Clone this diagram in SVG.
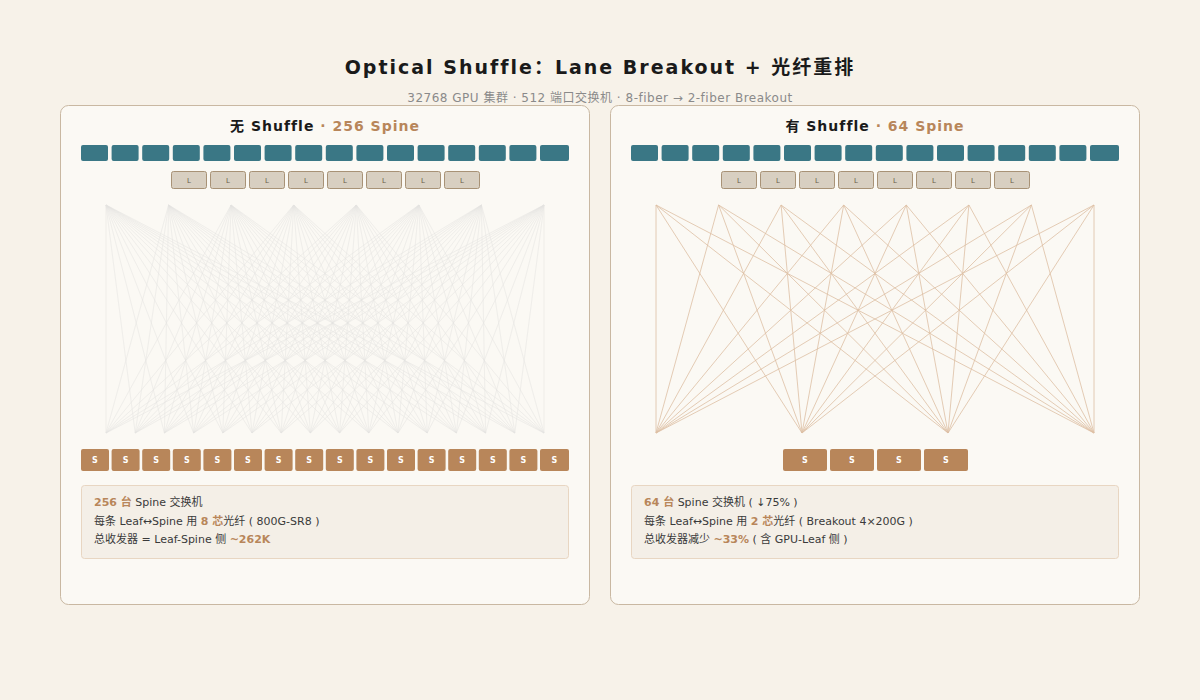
<svg xmlns="http://www.w3.org/2000/svg" width="1200" height="700" viewBox="0 0 1200 700">
<style>
text{font-family:"DejaVu Sans","Noto Sans CJK SC",sans-serif}
.panel{fill:#fbf9f4;stroke:#c9b8a2;stroke-width:1}
.g{fill:#3a7785}
.l{fill:#d8cfc1;stroke:#a89276;stroke-width:1}
.lt{font-size:7px;fill:#6b5a48;text-anchor:middle}
.s{fill:#b8865a}
.st{font-size:8px;fill:#fff;font-weight:bold;text-anchor:middle}
.info{fill:#f4efe7;stroke:#e8d6c2}
.it{font-size:11px;fill:#3a3a3a}
.hl{fill:#b8865a;font-weight:bold}
.c1{stroke:#cfcfcf;stroke-width:0.5;opacity:0.5}
.c2{stroke:#ddbfa3;stroke-width:0.8}
</style>
<rect width="1200" height="700" fill="#f7f2e9"/>
<text x="600" y="74" font-size="19" font-weight="bold" text-anchor="middle" fill="#1a1a1a" letter-spacing="2">Optical Shuffle：Lane Breakout + 光纤重排</text>
<text x="600" y="102" font-size="12" text-anchor="middle" fill="#8a8a8a" letter-spacing="0.5">32768 GPU 集群 · 512 端口交换机 · 8-fiber → 2-fiber Breakout</text>
<g id="panel-left">
<rect class="panel" x="60.5" y="105.5" width="529" height="499" rx="8"/>
<text x="325" y="131" font-size="14" font-weight="bold" text-anchor="middle" fill="#1a1a1a" letter-spacing="1">无 Shuffle <tspan fill="#b8865a">· 256 Spine</tspan></text>
<g id="gpu-left"><rect class="g" x="81" y="145" width="27" height="16" rx="2"/><rect class="g" x="111.6" y="145" width="27" height="16" rx="2"/><rect class="g" x="142.2" y="145" width="27" height="16" rx="2"/><rect class="g" x="172.8" y="145" width="27" height="16" rx="2"/><rect class="g" x="203.4" y="145" width="27" height="16" rx="2"/><rect class="g" x="234" y="145" width="27" height="16" rx="2"/><rect class="g" x="264.6" y="145" width="27" height="16" rx="2"/><rect class="g" x="295.2" y="145" width="27" height="16" rx="2"/><rect class="g" x="325.8" y="145" width="27" height="16" rx="2"/><rect class="g" x="356.4" y="145" width="27" height="16" rx="2"/><rect class="g" x="387" y="145" width="27" height="16" rx="2"/><rect class="g" x="417.6" y="145" width="27" height="16" rx="2"/><rect class="g" x="448.2" y="145" width="27" height="16" rx="2"/><rect class="g" x="478.8" y="145" width="27" height="16" rx="2"/><rect class="g" x="509.4" y="145" width="27" height="16" rx="2"/><rect class="g" x="540" y="145" width="29" height="16" rx="2"/></g>
<g id="leaf-left">
<rect class="l" x="171.5" y="171.5" width="35" height="17" rx="2"/><text class="lt" x="189" y="183">L</text>
<rect class="l" x="210.5" y="171.5" width="35" height="17" rx="2"/><text class="lt" x="228" y="183">L</text>
<rect class="l" x="249.5" y="171.5" width="35" height="17" rx="2"/><text class="lt" x="267" y="183">L</text>
<rect class="l" x="288.5" y="171.5" width="35" height="17" rx="2"/><text class="lt" x="306" y="183">L</text>
<rect class="l" x="327.5" y="171.5" width="35" height="17" rx="2"/><text class="lt" x="345" y="183">L</text>
<rect class="l" x="366.5" y="171.5" width="35" height="17" rx="2"/><text class="lt" x="384" y="183">L</text>
<rect class="l" x="405.5" y="171.5" width="35" height="17" rx="2"/><text class="lt" x="423" y="183">L</text>
<rect class="l" x="444.5" y="171.5" width="35" height="17" rx="2"/><text class="lt" x="462" y="183">L</text>
</g>
<g id="spine-left">
<rect class="s" x="81" y="449" width="28" height="22" rx="2"/><text class="st" x="95" y="463">S</text>
<rect class="s" x="111.6" y="449" width="28" height="22" rx="2"/><text class="st" x="125.6" y="463">S</text>
<rect class="s" x="142.2" y="449" width="28" height="22" rx="2"/><text class="st" x="156.2" y="463">S</text>
<rect class="s" x="172.8" y="449" width="28" height="22" rx="2"/><text class="st" x="186.8" y="463">S</text>
<rect class="s" x="203.4" y="449" width="28" height="22" rx="2"/><text class="st" x="217.4" y="463">S</text>
<rect class="s" x="234" y="449" width="28" height="22" rx="2"/><text class="st" x="248" y="463">S</text>
<rect class="s" x="264.6" y="449" width="28" height="22" rx="2"/><text class="st" x="278.6" y="463">S</text>
<rect class="s" x="295.2" y="449" width="28" height="22" rx="2"/><text class="st" x="309.2" y="463">S</text>
<rect class="s" x="325.8" y="449" width="28" height="22" rx="2"/><text class="st" x="339.8" y="463">S</text>
<rect class="s" x="356.4" y="449" width="28" height="22" rx="2"/><text class="st" x="370.4" y="463">S</text>
<rect class="s" x="387" y="449" width="28" height="22" rx="2"/><text class="st" x="401" y="463">S</text>
<rect class="s" x="417.6" y="449" width="28" height="22" rx="2"/><text class="st" x="431.6" y="463">S</text>
<rect class="s" x="448.2" y="449" width="28" height="22" rx="2"/><text class="st" x="462.2" y="463">S</text>
<rect class="s" x="478.8" y="449" width="28" height="22" rx="2"/><text class="st" x="492.8" y="463">S</text>
<rect class="s" x="509.4" y="449" width="28" height="22" rx="2"/><text class="st" x="523.4" y="463">S</text>
<rect class="s" x="540" y="449" width="29" height="22" rx="2"/><text class="st" x="554.5" y="463">S</text>
</g>
<g id="info-left">
<rect class="info" x="81.5" y="485.5" width="487" height="73" rx="3"/>
<text class="it" x="94" y="506"><tspan class="hl">256 台</tspan> Spine 交换机</text>
<text class="it" x="94" y="525">每条 Leaf↔Spine 用 <tspan class="hl">8 芯</tspan>光纤 ( 800G-SR8 )</text>
<text class="it" x="94" y="543">总收发器 = Leaf-Spine 侧 <tspan class="hl">~262K</tspan></text>
</g>
</g>
<g id="panel-right">
<rect class="panel" x="610.5" y="105.5" width="529" height="499" rx="8"/>
<text x="875" y="131" font-size="14" font-weight="bold" text-anchor="middle" fill="#1a1a1a" letter-spacing="1">有 Shuffle <tspan fill="#b8865a">· 64 Spine</tspan></text>
<g id="gpu-right"><rect class="g" x="631" y="145" width="27" height="16" rx="2"/><rect class="g" x="661.6" y="145" width="27" height="16" rx="2"/><rect class="g" x="692.2" y="145" width="27" height="16" rx="2"/><rect class="g" x="722.8" y="145" width="27" height="16" rx="2"/><rect class="g" x="753.4" y="145" width="27" height="16" rx="2"/><rect class="g" x="784" y="145" width="27" height="16" rx="2"/><rect class="g" x="814.6" y="145" width="27" height="16" rx="2"/><rect class="g" x="845.2" y="145" width="27" height="16" rx="2"/><rect class="g" x="875.8" y="145" width="27" height="16" rx="2"/><rect class="g" x="906.4" y="145" width="27" height="16" rx="2"/><rect class="g" x="937" y="145" width="27" height="16" rx="2"/><rect class="g" x="967.6" y="145" width="27" height="16" rx="2"/><rect class="g" x="998.2" y="145" width="27" height="16" rx="2"/><rect class="g" x="1028.8" y="145" width="27" height="16" rx="2"/><rect class="g" x="1059.4" y="145" width="27" height="16" rx="2"/><rect class="g" x="1090" y="145" width="29" height="16" rx="2"/></g>
<g id="leaf-right">
<rect class="l" x="721.5" y="171.5" width="35" height="17" rx="2"/><text class="lt" x="739" y="183">L</text>
<rect class="l" x="760.5" y="171.5" width="35" height="17" rx="2"/><text class="lt" x="778" y="183">L</text>
<rect class="l" x="799.5" y="171.5" width="35" height="17" rx="2"/><text class="lt" x="817" y="183">L</text>
<rect class="l" x="838.5" y="171.5" width="35" height="17" rx="2"/><text class="lt" x="856" y="183">L</text>
<rect class="l" x="877.5" y="171.5" width="35" height="17" rx="2"/><text class="lt" x="895" y="183">L</text>
<rect class="l" x="916.5" y="171.5" width="35" height="17" rx="2"/><text class="lt" x="934" y="183">L</text>
<rect class="l" x="955.5" y="171.5" width="35" height="17" rx="2"/><text class="lt" x="973" y="183">L</text>
<rect class="l" x="994.5" y="171.5" width="35" height="17" rx="2"/><text class="lt" x="1012" y="183">L</text>
</g>
<g id="spine-right">
<rect class="s" x="783" y="449" width="44" height="22" rx="2"/><text class="st" x="805" y="463">S</text>
<rect class="s" x="830" y="449" width="44" height="22" rx="2"/><text class="st" x="852" y="463">S</text>
<rect class="s" x="877" y="449" width="44" height="22" rx="2"/><text class="st" x="899" y="463">S</text>
<rect class="s" x="924" y="449" width="44" height="22" rx="2"/><text class="st" x="946" y="463">S</text>
</g>
<g id="info-right">
<rect class="info" x="631.5" y="485.5" width="487" height="73" rx="3"/>
<text class="it" x="644" y="506"><tspan class="hl">64 台</tspan> Spine 交换机 ( ↓75% )</text>
<text class="it" x="644" y="525">每条 Leaf↔Spine 用 <tspan class="hl">2 芯</tspan>光纤 ( Breakout 4×200G )</text>
<text class="it" x="644" y="543">总收发器减少 <tspan class="hl">~33%</tspan> ( 含 GPU-Leaf 侧 )</text>
</g>
</g>
<g id="connectors">
<g class="c2">
<path d="M656 205L656 433M656 205L802 433M656 205L948 433M656 205L1094 433
M718.6 205L656 433M718.6 205L802 433M718.6 205L948 433M718.6 205L1094 433
M781.1 205L656 433M781.1 205L802 433M781.1 205L948 433M781.1 205L1094 433
M843.7 205L656 433M843.7 205L802 433M843.7 205L948 433M843.7 205L1094 433
M906.3 205L656 433M906.3 205L802 433M906.3 205L948 433M906.3 205L1094 433
M968.9 205L656 433M968.9 205L802 433M968.9 205L948 433M968.9 205L1094 433
M1031.4 205L656 433M1031.4 205L802 433M1031.4 205L948 433M1031.4 205L1094 433
M1094 205L656 433M1094 205L802 433M1094 205L948 433M1094 205L1094 433"/>
</g>
<g class="c1">
<path d="M106 205L106 433M106 205L135.2 433M106 205L164.4 433M106 205L193.6 433M106 205L222.8 433M106 205L252 433M106 205L281.2 433M106 205L310.4 433M106 205L339.6 433M106 205L368.8 433M106 205L398 433M106 205L427.2 433M106 205L456.4 433M106 205L485.6 433M106 205L514.8 433M106 205L544 433"/>
<path d="M168.6 205L106 433M168.6 205L135.2 433M168.6 205L164.4 433M168.6 205L193.6 433M168.6 205L222.8 433M168.6 205L252 433M168.6 205L281.2 433M168.6 205L310.4 433M168.6 205L339.6 433M168.6 205L368.8 433M168.6 205L398 433M168.6 205L427.2 433M168.6 205L456.4 433M168.6 205L485.6 433M168.6 205L514.8 433M168.6 205L544 433"/>
<path d="M231.1 205L106 433M231.1 205L135.2 433M231.1 205L164.4 433M231.1 205L193.6 433M231.1 205L222.8 433M231.1 205L252 433M231.1 205L281.2 433M231.1 205L310.4 433M231.1 205L339.6 433M231.1 205L368.8 433M231.1 205L398 433M231.1 205L427.2 433M231.1 205L456.4 433M231.1 205L485.6 433M231.1 205L514.8 433M231.1 205L544 433"/>
<path d="M293.7 205L106 433M293.7 205L135.2 433M293.7 205L164.4 433M293.7 205L193.6 433M293.7 205L222.8 433M293.7 205L252 433M293.7 205L281.2 433M293.7 205L310.4 433M293.7 205L339.6 433M293.7 205L368.8 433M293.7 205L398 433M293.7 205L427.2 433M293.7 205L456.4 433M293.7 205L485.6 433M293.7 205L514.8 433M293.7 205L544 433"/>
<path d="M356.3 205L106 433M356.3 205L135.2 433M356.3 205L164.4 433M356.3 205L193.6 433M356.3 205L222.8 433M356.3 205L252 433M356.3 205L281.2 433M356.3 205L310.4 433M356.3 205L339.6 433M356.3 205L368.8 433M356.3 205L398 433M356.3 205L427.2 433M356.3 205L456.4 433M356.3 205L485.6 433M356.3 205L514.8 433M356.3 205L544 433"/>
<path d="M418.9 205L106 433M418.9 205L135.2 433M418.9 205L164.4 433M418.9 205L193.6 433M418.9 205L222.8 433M418.9 205L252 433M418.9 205L281.2 433M418.9 205L310.4 433M418.9 205L339.6 433M418.9 205L368.8 433M418.9 205L398 433M418.9 205L427.2 433M418.9 205L456.4 433M418.9 205L485.6 433M418.9 205L514.8 433M418.9 205L544 433"/>
<path d="M481.4 205L106 433M481.4 205L135.2 433M481.4 205L164.4 433M481.4 205L193.6 433M481.4 205L222.8 433M481.4 205L252 433M481.4 205L281.2 433M481.4 205L310.4 433M481.4 205L339.6 433M481.4 205L368.8 433M481.4 205L398 433M481.4 205L427.2 433M481.4 205L456.4 433M481.4 205L485.6 433M481.4 205L514.8 433M481.4 205L544 433"/>
<path d="M544 205L106 433M544 205L135.2 433M544 205L164.4 433M544 205L193.6 433M544 205L222.8 433M544 205L252 433M544 205L281.2 433M544 205L310.4 433M544 205L339.6 433M544 205L368.8 433M544 205L398 433M544 205L427.2 433M544 205L456.4 433M544 205L485.6 433M544 205L514.8 433M544 205L544 433"/>
</g>
</g>
</svg>
